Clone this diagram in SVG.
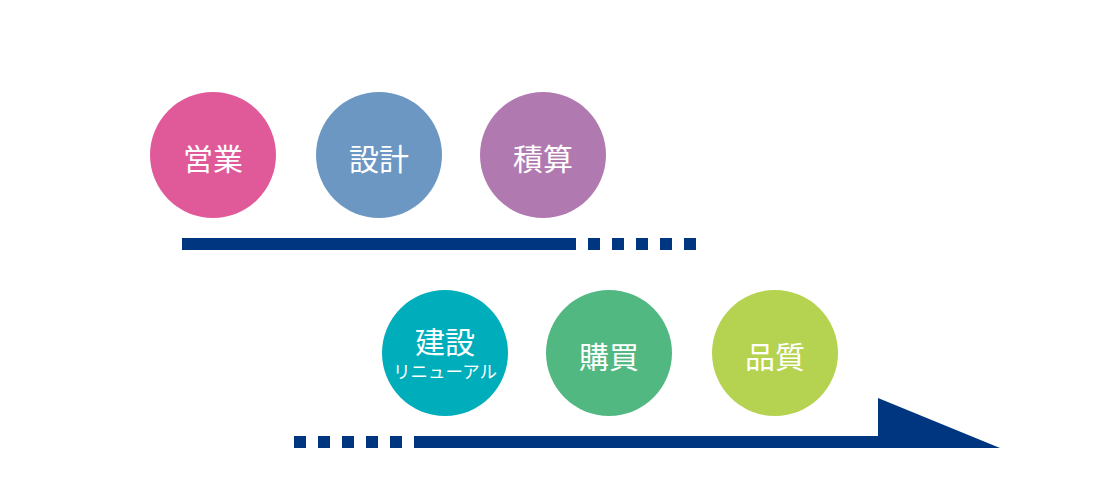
<svg xmlns="http://www.w3.org/2000/svg" width="1100" height="500" viewBox="0 0 1100 500">
<style>
.lbl{fill:#ffffff;font-family:"Noto Sans CJK JP","Noto Sans",sans-serif;font-size:30px;text-anchor:middle}
.sub{fill:#ffffff;font-family:"Noto Sans CJK JP","Noto Sans",sans-serif;font-size:17.5px;text-anchor:middle}
.bar{fill:#003580}
</style>
<rect width="1100" height="500" fill="#ffffff"/>
<g id="node-eigyo"><circle cx="213" cy="155" r="63" fill="#E05A9A"/><text class="lbl" x="213" y="170">営業</text></g>
<g id="node-sekkei"><circle cx="379" cy="155" r="63" fill="#6C97C3"/><text class="lbl" x="379" y="170">設計</text></g>
<g id="node-sekisan"><circle cx="543" cy="155" r="63" fill="#B07AB0"/><text class="lbl" x="543" y="170">積算</text></g>
<g id="node-kensetsu"><circle cx="445" cy="353" r="63" fill="#00AEBB"/><text class="lbl" x="445" y="353">建設</text><text class="sub" x="445" y="378">リニューアル</text></g>
<g id="node-kobai"><circle cx="609" cy="353" r="63" fill="#52B882"/><text class="lbl" x="609" y="368">購買</text></g>
<g id="node-hinshitsu"><circle cx="775" cy="353" r="63" fill="#B5D250"/><text class="lbl" x="775" y="368">品質</text></g>
<g id="connectors">
<rect class="bar" x="182" y="238" width="394" height="12"/>
<rect class="bar" x="588" y="238" width="12" height="12"/>
<rect class="bar" x="612" y="238" width="12" height="12"/>
<rect class="bar" x="636" y="238" width="12" height="12"/>
<rect class="bar" x="660" y="238" width="12" height="12"/>
<rect class="bar" x="684" y="238" width="12" height="12"/>
<rect class="bar" x="294" y="436" width="12" height="12"/>
<rect class="bar" x="318" y="436" width="12" height="12"/>
<rect class="bar" x="342" y="436" width="12" height="12"/>
<rect class="bar" x="366" y="436" width="12" height="12"/>
<rect class="bar" x="390" y="436" width="12" height="12"/>
<polygon class="bar" points="414,436 878,436 878,398 1000,448 414,448"/>
</g>
</svg>
